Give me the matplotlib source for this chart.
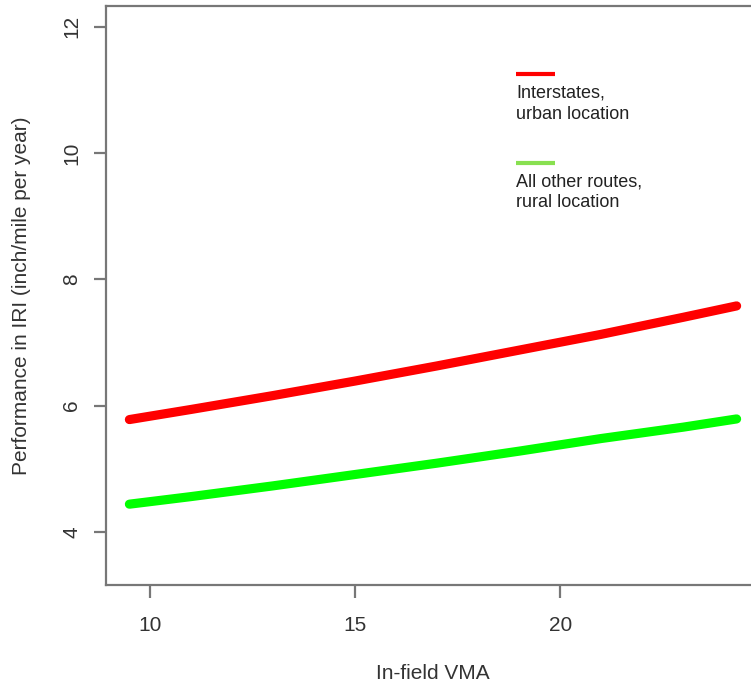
import matplotlib
matplotlib.use("Agg")
import matplotlib.pyplot as plt

plt.rcParams['font.family'] = ['Liberation Sans', 'DejaVu Sans']

# In-field VMA values and fitted IRI performance for the two route groups
vma = [9.5, 11, 13, 15, 17, 19, 21, 23, 24.3]
iri_interstate_urban = [5.78, 5.94, 6.16, 6.39, 6.63, 6.88, 7.13, 7.40, 7.58]
iri_other_rural = [4.44, 4.56, 4.73, 4.91, 5.09, 5.28, 5.48, 5.66, 5.79]

x_ticks = [10, 15, 20]
y_ticks = [4, 6, 8, 10, 12]

legend_labels = ["Interstates,\nurban location", "All other routes,\nrural location"]

W, H = 751, 685
fig = plt.figure(figsize=(W / 100, H / 100), dpi=100)
ax = fig.add_axes([106 / W, (H - 585) / H, 654 / W, 579 / H])

ax.plot(vma, iri_interstate_urban, color="#ff0000", lw=6.6, solid_capstyle="round")
ax.plot(vma, iri_other_rural, color="#00ff00", lw=6.6, solid_capstyle="round")

ax.set_xlim(8.93, 24.87)
ax.set_ylim(3.16, 12.33)
ax.set_xticks(x_ticks)
ax.set_yticks(y_ticks)
ax.set_yticklabels([str(v) for v in y_ticks], rotation=90, va="center")

spine_col = "#777777"
for s in ax.spines.values():
    s.set_color(spine_col)
    s.set_linewidth(1.6)
ax.tick_params(axis="both", length=9, width=1.6, color=spine_col,
               labelsize=15, labelcolor="#333333")
ax.tick_params(axis="x", pad=13.5)
ax.tick_params(axis="y", pad=9)

ax.set_xlabel("In-field VMA", fontsize=15, color="#333333", labelpad=21)
ax.set_ylabel("Performance in IRI (inch/mile per year)", fontsize=15,
              color="#333333", labelpad=22)

# Legend drawn as short colour bars with text below
lx0, lx1 = (516 - 106) / 654, (555 - 106) / 654
for (yl, yt), col, lab in zip([(0.8826, 0.864), (0.7288, 0.711)],
                              ["#ff0000", "#88e050"], legend_labels):
    ax.plot([lx0, lx1], [yl, yl], transform=ax.transAxes, color=col, lw=3,
            solid_capstyle="butt", clip_on=False)
    ax.text(lx0, yt, lab, transform=ax.transAxes, fontsize=13,
            color="#222222", va="top", ha="left", linespacing=1.32)

fig.savefig("out.png", dpi=100)
